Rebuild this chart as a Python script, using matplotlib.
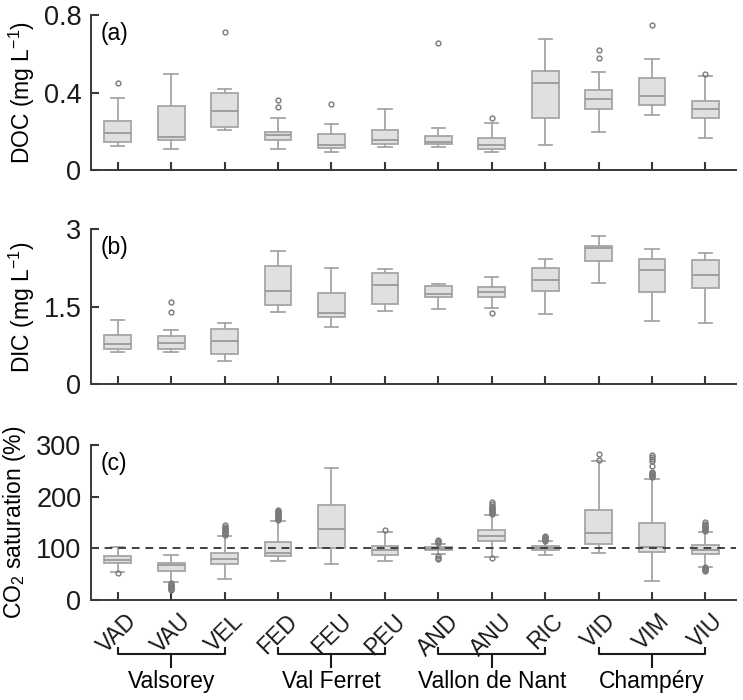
import matplotlib.pyplot as plt
from matplotlib.transforms import blended_transform_factory

plt.rcParams['font.family'] = ['Liberation Sans', 'DejaVu Sans']
plt.rcParams['mathtext.fontset'] = 'custom'
plt.rcParams['mathtext.rm'] = 'Liberation Sans'
plt.rcParams['mathtext.it'] = 'Liberation Sans:italic'
plt.rcParams['mathtext.bf'] = 'Liberation Sans:bold'
plt.rcParams['font.size'] = 16

# Sites and catchments
sites = ["VAD", "VAU", "VEL", "FED", "FEU", "PEU",
         "AND", "ANU", "RIC", "VID", "VIM", "VIU"]
catchments = ["Valsorey", "Val Ferret", "Vallon de Nant", "Champéry"]

# DOC (mg L-1): whisker low, q1, median, q3, whisker high, outliers
doc_low = [0.122, 0.107, 0.206, 0.107, 0.095, 0.119, 0.119, 0.091, 0.129, 0.198, 0.286, 0.167]
doc_q1 = [0.143, 0.156, 0.224, 0.153, 0.112, 0.136, 0.134, 0.110, 0.266, 0.313, 0.334, 0.267]
doc_med = [0.191, 0.170, 0.306, 0.181, 0.127, 0.153, 0.146, 0.129, 0.447, 0.365, 0.382, 0.313]
doc_q3 = [0.254, 0.330, 0.399, 0.198, 0.184, 0.208, 0.174, 0.165, 0.509, 0.411, 0.477, 0.355]
doc_high = [0.373, 0.494, 0.416, 0.270, 0.237, 0.317, 0.215, 0.243, 0.678, 0.507, 0.573, 0.484]
doc_fliers = [[0.451], [], [0.711], [0.361, 0.327], [0.341], [], [0.654], [0.268], [],
              [0.619, 0.580], [0.750], [0.494]]

# DIC (mg L-1)
dic_low = [0.634, 0.622, 0.453, 1.400, 1.100, 1.425, 1.450, 1.477, 1.354, 1.963, 1.217, 1.178]
dic_q1 = [0.692, 0.692, 0.589, 1.542, 1.303, 1.555, 1.691, 1.691, 1.808, 2.378, 1.788, 1.866]
dic_med = [0.783, 0.797, 0.836, 1.814, 1.380, 1.925, 1.750, 1.788, 2.015, 2.644, 2.222, 2.119]
dic_q3 = [0.945, 0.939, 1.062, 2.294, 1.762, 2.158, 1.905, 1.879, 2.242, 2.683, 2.423, 2.397]
dic_high = [1.244, 1.050, 1.186, 2.578, 2.242, 2.228, 1.937, 2.073, 2.417, 2.870, 2.617, 2.539]
dic_fliers = [[], [1.587, 1.392], [], [], [], [], [], [1.386], [], [], [], []]

# CO2 saturation (%)
co2_low = [54, 34, 41, 75.5, 70, 75.5, 89, 82.6, 87, 90, 37, 64.5]
co2_q1 = [71, 56, 70, 84.5, 100, 86.4, 96, 113.5, 96.8, 109, 93, 88.4]
co2_med = [77, 67, 79, 91.6, 137, 96.8, 99.3, 124, 100.6, 130, 102, 96.8]
co2_q3 = [85, 71.6, 91, 111.6, 184, 105, 102, 135, 104, 173.6, 148.4, 106.4]
co2_high = [103, 87.7, 124.5, 153.5, 255, 131.6, 108.4, 164.5, 113.5, 268.4, 233.5, 131]
co2_fliers = [
    [51.6],
    [19, 21, 23, 25, 27, 29, 31, 33],
    [126, 128, 130, 132, 134, 136, 138, 140, 142, 145],
    [155, 157, 159, 161, 163, 165, 167, 169, 171, 173, 175],
    [],
    [135.5],
    [111, 113, 115, 117, 80, 82, 84.5],
    [166, 168, 170, 172, 174, 176, 178, 180, 182, 185, 189, 81],
    [114.5, 116.5, 118.5, 120.5, 122.5, 124],
    [271, 282],
    [238.7, 240.5, 242.5, 244.5, 246.5, 248, 259.4, 268.4, 272.3, 276.8, 281.3],
    [134, 136, 138, 140, 142, 144, 146, 148, 150, 56, 58, 60, 62, 63],
]

panels = [
    dict(low=doc_low, q1=doc_q1, med=doc_med, q3=doc_q3, high=doc_high, fliers=doc_fliers,
         ylim=0.8, yticks=[0, 0.4, 0.8], yticklabels=["0", "0.4", "0.8"],
         ylabel=r"DOC (mg L$^{-1}$)", tag="(a)", labelx=-0.084),
    dict(low=dic_low, q1=dic_q1, med=dic_med, q3=dic_q3, high=dic_high, fliers=dic_fliers,
         ylim=3, yticks=[0, 1.5, 3], yticklabels=["0", "1.5", "3"],
         ylabel=r"DIC (mg L$^{-1}$)", tag="(b)", labelx=-0.084),
    dict(low=co2_low, q1=co2_q1, med=co2_med, q3=co2_q3, high=co2_high, fliers=co2_fliers,
         ylim=300, yticks=[0, 100, 200, 300], yticklabels=["0", "100", "200", "300"],
         ylabel=r"CO$_2$ saturation (%)", tag="(c)", labelx=-0.097),
]

box_face = "#e0e0e0"
box_edge = "#a6a6a6"
axis_color = "#383838"

fig = plt.figure(figsize=(7.43, 7.0), dpi=100)
bottoms = [0.7571, 0.4510, 0.1429]
positions = list(range(1, len(sites) + 1))

axes = []
for p, bottom in zip(panels, bottoms):
    ax = fig.add_axes([0.1225, bottom, 0.868, 0.2214])
    stats = []
    for i in range(len(sites)):
        stats.append(dict(whislo=p["low"][i], q1=p["q1"][i], med=p["med"][i],
                          q3=p["q3"][i], whishi=p["high"][i], fliers=p["fliers"][i]))
    ax.bxp(stats, positions=positions, widths=0.5, capwidths=0.25,
           patch_artist=True, showfliers=True,
           boxprops=dict(facecolor=box_face, edgecolor=box_edge, linewidth=1.3),
           medianprops=dict(color="#9a9a9a", linewidth=1.3),
           whiskerprops=dict(color=box_edge, linewidth=1.3),
           capprops=dict(color=box_edge, linewidth=1.3),
           flierprops=dict(marker="o", markersize=3.5, markerfacecolor="none",
                           markeredgecolor="#7a7a7a", markeredgewidth=1.0))
    ax.set_xlim(0.5, 12.57)
    ax.set_ylim(0, p["ylim"])
    ax.set_yticks(p["yticks"])
    ax.set_yticklabels(p["yticklabels"])
    ax.set_xticks(positions)
    ax.set_xticklabels([])
    for side in ["top", "right"]:
        ax.spines[side].set_visible(False)
    for side in ["left", "bottom"]:
        ax.spines[side].set_color(axis_color)
        ax.spines[side].set_linewidth(1.4)
    ax.tick_params(axis="both", direction="in", length=6, width=1.5,
                   color=axis_color, labelcolor="#1a1a1a")
    ax.tick_params(axis="y", pad=7, labelsize=19.5)
    ax.set_ylabel(p["ylabel"], fontsize=16.5)
    ax.yaxis.set_label_coords(p["labelx"], 0.5)
    ax.text(0.015, 0.955, p["tag"], transform=ax.transAxes, ha="left", va="top",
            fontsize=16.5)
    axes.append(ax)

# dashed 100% line in panel (c)
axes[2].axhline(100, color="#404040", linestyle=(0, (4, 3)), linewidth=1.4, zorder=5)

# tick labels on bottom panel
ax = axes[2]
ax.set_xticklabels(sites, rotation=45, ha="center", fontsize=16.5)
ax.tick_params(axis="x", pad=7)

# catchment brackets
trans = blended_transform_factory(ax.transData, ax.transAxes)
for g, name in enumerate(catchments):
    x0 = positions[3 * g]
    x1 = positions[3 * g + 2]
    xm = positions[3 * g + 1]
    ax.plot([x0, x0, x1, x1], [-0.31, -0.348, -0.348, -0.31], color="#1a1a1a",
            linewidth=1.5, transform=trans, clip_on=False)
    ax.plot([xm, xm], [-0.348, -0.432], color="#1a1a1a", linewidth=1.5,
            transform=trans, clip_on=False)
    ax.text(xm, -0.568, name, transform=trans, ha="center", va="baseline",
            fontsize=16.5)

fig.savefig("out.png", dpi=100)
